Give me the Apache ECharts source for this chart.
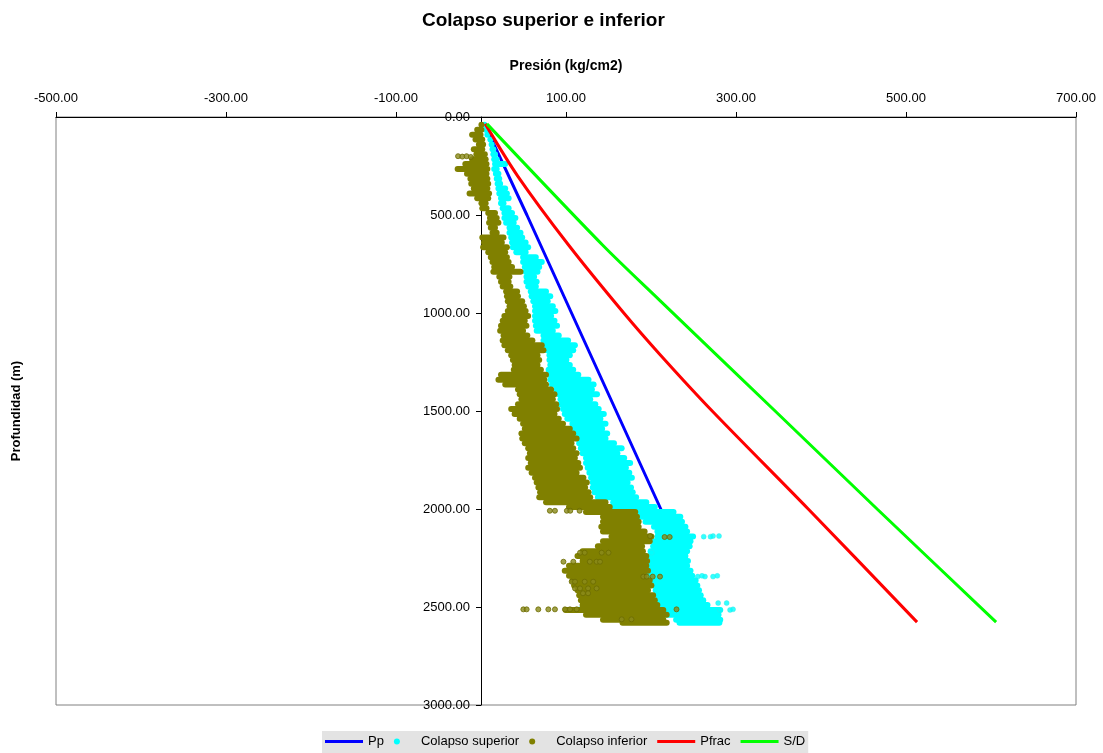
<!DOCTYPE html>
<html>
<head>
<meta charset="utf-8">
<script src="https://cdn.jsdelivr.net/npm/echarts@6/dist/echarts.min.js"></script>
<style>html,body{margin:0;padding:0;background:#fff}#c{width:1103px;height:753px}</style>
</head>
<body>
<div id="c"></div>
<script>
// ---- Data (x = Presión kg/cm2, depth = Profundidad m) ----
const titleText = 'Colapso superior e inferior';
const xTicks = [-500, -300, -100, 100, 300, 500, 700];
const yTicks = [0, 500, 1000, 1500, 2000, 2500, 3000];

// Pressure lines: [pressure, depth]
const ppLine    = [[4,35],[54,500],[106.5,1000],[159,1500],[211.5,2000],[272,2575]];
const pfracLine = [[5,35],[43,300],[103,653],[168,1000],[211,1214],[272,1500],[385,2000],[513,2577]];
const sdLine    = [[7,35],[143,653],[210,934],[346,1500],[466,2000],[606,2577]];

// Cloud bands: depth rows with min / max pressure of the dense point clouds
const depths = [40,65,90,115,140,165,190,215,240,265,290,315,340,365,390,415,440,465,490,515,540,565,590,615,640,665,690,715,740,765,790,815,840,865,890,915,940,965,990,1015,1040,1065,1090,1115,1140,1165,1190,1215,1240,1265,1290,1315,1340,1365,1390,1415,1440,1465,1490,1515,1540,1565,1590,1615,1640,1665,1690,1715,1740,1765,1790,1815,1840,1865,1890,1915,1940,1965,1990,2015,2040,2065,2090,2115,2140,2165,2190,2215,2240,2265,2290,2315,2340,2365,2390,2415,2440,2465,2490,2515,2540,2565,2580];

const infMin = [-2,-8,-14,-10,-6,-12,-9,-14,-22,-31,-20,-16,-15,-12,-17,-8,-3,-2,5,7,6,8,10,-2,0,-1,5,8,10,12,11,18,20,22,26,27,28,30,28,24,22,20,19,23,22,24,28,32,34,36,35,20,17,25,40,42,44,40,32,36,42,46,48,44,45,48,52,54,52,55,52,56,60,62,64,66,65,73,100,120,140,140,138,140,150,140,134,116,110,116,100,95,100,104,106,110,112,114,116,96,120,140,163];
const infMax = [3,4,3,5,6,5,8,9,10,11,10,11,12,11,13,12,9,10,20,22,24,20,22,30,28,34,32,34,36,40,50,37,36,38,46,47,52,54,56,59,55,57,53,58,64,75,77,70,72,70,74,80,78,80,86,90,88,92,93,90,95,100,108,112,116,110,112,116,114,118,120,116,124,128,126,130,132,150,155,185,187,189,189,196,204,202,193,194,198,199,198,200,196,202,204,200,206,208,211,218,222,218,222];

const supMin = [2,3,5,8,9,10,11,12,13,12,14,15,16,17,18,20,20,22,24,24,26,30,30,32,33,34,38,46,46,48,49,50,50,52,55,56,58,60,60,60,60,61,62,70,70,72,74,77,77,78,76,77,78,80,85,88,90,90,93,95,98,104,105,106,110,112,114,116,120,120,122,124,126,128,128,130,134,152,145,150,185,190,200,204,204,200,199,196,195,190,188,187,190,198,200,202,204,206,208,210,215,226,230];
const supMax = [6,8,10,14,16,18,20,22,32,22,24,25,26,32,34,36,30,36,40,44,42,46,50,52,56,59,56,68,75,72,70,66,69,68,80,85,82,88,91,86,90,93,88,95,106,114,112,108,104,108,112,118,130,136,134,140,132,138,142,148,144,150,146,152,150,160,169,164,172,179,174,178,181,176,180,182,186,198,208,230,238,240,244,246,253,250,249,246,244,247,246,250,252,256,258,260,262,265,270,285,283,285,284];

// Isolated points outside the dense clouds: [pressure, depth]
const infDots = [[-27,200],[-22,202],[-17,200],[-12,204],[81,2009],[87,2009],[101,2009],[105,2009],[116,2009],[199,2138],[216,2143],[222,2143],[116.5,2223],[122,2223],[142,2223],[150,2223],[97,2269],[108.6,2269],[128,2269],[136,2269],[140,2269],[191,2345],[195,2345],[202,2345],[210.6,2345],[106.7,2371],[110.6,2371],[122,2371],[132,2371],[110.6,2405],[116.5,2405],[126,2405],[136,2405],[120,2430],[126,2430],[49.8,2512],[53.7,2512],[67.4,2512],[79.2,2512],[87,2512],[98.8,2512],[104.7,2512],[112.6,2512],[230,2512],[165.5,2563],[177,2563]];
const supDots = [[273,2138],[280,2138],[262,2141],[270,2141],[200.8,2223],[255,2345],[263.5,2345],[273,2345],[260,2341],[278,2341],[279,2480],[289,2480],[296.5,2512],[116,2512],[122,2512],[281,2515],[293,2515]];

// ---- Build ----
const supRows = depths.map((d, i) => [d, supMin[i], supMax[i]]);
const infRows = depths.map((d, i) => [d, infMin[i], infMax[i]]);

function bandRender(params, api) {
  const d = api.value(0), a = api.value(1), b = api.value(2);
  const p1 = api.coord([a, d]);
  const p2 = api.coord([b, d]);
  const h = 6;
  let x0 = p1[0], w = p2[0] - p1[0];
  if (w < h) { x0 = (p1[0] + p2[0]) / 2 - h / 2; w = h; }
  return {
    type: 'rect',
    shape: { x: x0, y: p1[1] - h / 2, width: w, height: h, r: h / 2 },
    style: { fill: api.visual('color') }
  };
}

const LINE_ICON = 'path://M0,0L40,0L40,3L0,3Z';
const FONT = 'Liberation Sans, Arial, sans-serif';
const chart = echarts.init(document.getElementById('c'), null, { renderer: 'canvas' });
chart.setOption({
  backgroundColor: '#ffffff',
  animation: false,
  textStyle: { fontFamily: FONT, color: '#000' },
  title: {
    text: titleText, left: 417, top: 6,
    textStyle: { fontFamily: FONT, fontWeight: 'bold', fontSize: 19, color: '#000' }
  },
  legend: {
    bottom: 0, left: 322,
    backgroundColor: '#e3e3e3',
    padding: [4, 3, 5, 3],
    itemWidth: 38, itemHeight: 6, itemGap: 10,
    textStyle: { fontFamily: FONT, fontSize: 13, color: '#000' },
    data: [
      { name: 'Pp', icon: LINE_ICON },
      { name: 'Colapso superior', icon: 'circle' },
      { name: 'Colapso inferior', icon: 'circle' },
      { name: 'Pfrac', icon: LINE_ICON },
      { name: 'S/D', icon: LINE_ICON }
    ]
  },
  grid: { left: 56, right: 27, top: 117, bottom: 48, containLabel: false, outerBoundsMode: 'none', show: true, borderColor: '#808080', borderWidth: 1, backgroundColor: 'transparent' },
  xAxis: {
    type: 'value', position: 'top',
    min: xTicks[0], max: xTicks[xTicks.length - 1], interval: 200,
    name: 'Presión (kg/cm2)', nameLocation: 'middle', nameGap: 44,
    nameTextStyle: { fontFamily: FONT, fontWeight: 'bold', fontSize: 14, color: '#000' },
    axisLine: { show: true, onZero: false, lineStyle: { color: '#000', width: 1 } },
    axisTick: { show: true, inside: false, length: 5, lineStyle: { color: '#000' } },
    axisLabel: { fontFamily: FONT, fontSize: 13, color: '#000', margin: 12, formatter: v => v.toFixed(2) },
    splitLine: { show: false }
  },
  yAxis: {
    type: 'value', inverse: true, position: 'left', offset: -425,
    min: yTicks[0], max: yTicks[yTicks.length - 1], interval: 500,
    name: 'Profundidad (m)', nameLocation: 'middle', nameGap: 458,
    nameTextStyle: { fontFamily: FONT, fontWeight: 'bold', fontSize: 13, color: '#000' },
    axisLine: { show: true, onZero: false, lineStyle: { color: '#000', width: 1 } },
    axisTick: { show: true, inside: false, length: 5, lineStyle: { color: '#000' } },
    axisLabel: { fontFamily: FONT, fontSize: 13, color: '#000', margin: 11, formatter: v => v.toFixed(2) },
    splitLine: { show: false }
  },
  series: [
    { name: 'Pp', type: 'line', data: ppLine, symbol: 'none', lineStyle: { color: '#0000ff', width: 3 }, itemStyle: { color: '#0000ff' }, z: 2 },
    { name: 'Colapso superior', type: 'custom', data: supRows, encode: { x: [1, 2], y: 0 }, renderItem: bandRender, itemStyle: { color: '#00ffff' }, z: 3 },
    { name: 'Colapso superior', type: 'scatter', data: supDots, symbol: 'circle', symbolSize: 5, itemStyle: { color: '#00ffff', borderColor: '#33e6e6', borderWidth: 0.5 }, z: 3 },
    { name: 'Colapso inferior', type: 'custom', data: infRows, encode: { x: [1, 2], y: 0 }, renderItem: bandRender, itemStyle: { color: '#808000' }, z: 4 },
    { name: 'Colapso inferior', type: 'scatter', data: infDots, symbol: 'circle', symbolSize: 5, itemStyle: { color: '#8a8a1a', borderColor: '#6b6b00', borderWidth: 1 }, z: 4 },
    { name: 'Pfrac', type: 'line', data: pfracLine, symbol: 'none', smooth: 0.3, lineStyle: { color: '#ff0000', width: 3 }, itemStyle: { color: '#ff0000' }, z: 5 },
    { name: 'S/D', type: 'line', data: sdLine, symbol: 'none', smooth: 0.3, lineStyle: { color: '#00ff00', width: 3 }, itemStyle: { color: '#00ff00' }, z: 6 }
  ]
});
</script>
</body>
</html>
